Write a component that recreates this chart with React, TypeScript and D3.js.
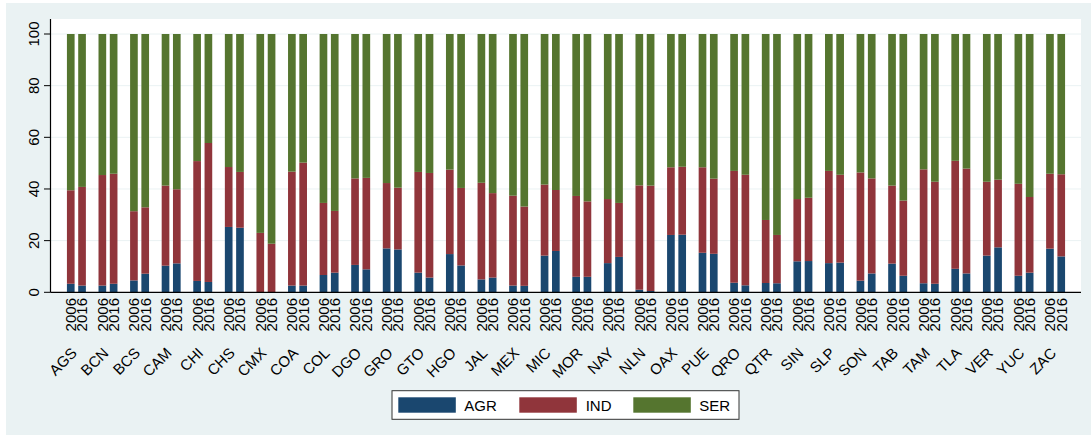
import React from "react";
import * as d3 from "d3";

const states = ["AGS","BCN","BCS","CAM","CHI","CHS","CMX","COA","COL","DGO","GRO","GTO","HGO","JAL","MEX","MIC","MOR","NAY","NLN","OAX","PUE","QRO","QTR","SIN","SLP","SON","TAB","TAM","TLA","VER","YUC","ZAC"];
const years = ["2006", "2016"];
const sectors = ["AGR", "IND", "SER"];

const agr2006 = [3.3,2.6,4.6,10.3,4.4,25.3,0.1,2.6,6.7,10.6,17.0,7.6,14.8,5.0,2.6,14.2,6.0,11.3,1.0,22.2,15.3,3.7,3.6,12.0,11.3,4.5,11.1,3.5,9.1,14.2,6.4,16.9];
const ind2006 = [36.2,42.8,26.8,31.0,46.4,23.2,22.9,44.1,27.9,33.5,25.3,39.0,32.7,37.4,34.8,27.5,31.3,24.8,40.4,26.2,33.1,43.3,24.4,24.1,35.7,41.9,30.2,44.1,41.8,28.6,35.6,29.0];
const ser2006 = [60.5,54.6,68.6,58.7,49.2,51.5,77.0,53.3,65.4,55.9,57.7,53.4,52.5,57.6,62.6,58.3,62.7,63.9,58.6,51.6,51.6,53.0,72.0,63.9,53.0,53.6,58.7,52.4,49.1,57.2,58.0,54.1];

const agr2016 = [2.6,3.3,7.2,11.2,4.0,25.0,0.1,2.6,7.6,8.9,16.6,5.7,10.4,5.7,2.5,16.0,6.0,13.7,0.5,22.3,14.9,2.7,3.5,12.1,11.5,7.3,6.4,3.3,7.3,17.4,7.6,13.9];
const ind2016 = [38.2,42.6,25.7,28.7,53.8,21.6,18.7,47.6,23.9,35.4,23.9,40.5,30.0,32.7,30.7,23.6,29.2,20.9,40.8,26.3,29.1,42.8,18.7,24.5,34.0,36.8,29.1,39.5,40.6,26.2,29.3,31.8];
const ser2016 = [59.2,54.1,67.1,60.1,42.2,53.4,81.2,49.8,68.5,55.7,59.5,53.8,59.6,61.6,66.8,60.4,64.8,65.4,58.7,51.4,56.0,54.5,77.8,63.4,54.5,55.9,64.5,57.2,52.1,56.4,63.1,54.3];

const yTicks = [0, 20, 40, 60, 80, 100];

const colors = ["#1a476f", "#90353b", "#55752f"];
const FONT = "'Liberation Sans', Arial, Helvetica, sans-serif";

type Row = { state: string; year: string; AGR: number; IND: number; SER: number };

const rows: Row[] = [];
states.forEach((s, i) => {
  rows.push({ state: s, year: "2006", AGR: agr2006[i], IND: ind2006[i], SER: ser2006[i] });
  rows.push({ state: s, year: "2016", AGR: agr2016[i], IND: ind2016[i], SER: ser2016[i] });
});

export default function App() {
  const W = 1091, H = 435;
  const plotL = 50.5, plotR = 1081, plotT = 19, plotB = 292.3;

  const y = d3.scaleLinear().domain([0, 100]).range([plotB, 34]);
  const x0 = d3.scaleBand<string>().domain(states).range([plotL, plotR + 0.5]).paddingInner(0.4).paddingOuter(0.52);
  const x1 = d3.scaleBand<string>().domain(years).range([0, x0.bandwidth()]).paddingInner(0.32);

  const stack = d3.stack<Row>().keys(sectors);
  const series = stack(rows);

  const legendItems = [
    { label: "AGR", sx: 398.3, tx: 464.3 },
    { label: "IND", sx: 519.3, tx: 585.7 },
    { label: "SER", sx: 633.3, tx: 699.3 },
  ];

  return (
    <div style={{ position: "absolute", left: 0, top: 0 }}>
      <svg width={W} height={H} style={{ display: "block" }}>
        <rect x={0} y={0} width={W} height={H} fill="#ffffff" />
        <rect x={6} y={3} width={W - 6} height={H - 3} fill="#eaf2f3" />
        <rect x={plotL} y={plotT} width={plotR - plotL} height={plotB - plotT} fill="#ffffff" />
        {yTicks.filter((t) => t > 0).map((t) => (
          <line key={"g" + t} x1={plotL} x2={plotR} y1={y(t)} y2={y(t)} stroke="#eaf2f3" strokeWidth={1} />
        ))}
        {series.map((s, si) => (
          <g key={s.key} fill={colors[si]}>
            {s.map((d, di) => {
              const r = d.data;
              const bx = (x0(r.state) as number) + (x1(r.year) as number);
              return (
                <rect key={di} x={bx} y={y(d[1])} width={x1.bandwidth()} height={Math.max(0, y(d[0]) - y(d[1]))} />
              );
            })}
          </g>
        ))}
        {/* axes */}
        <line x1={plotL} x2={plotL} y1={plotT} y2={plotB} stroke="#000" strokeWidth={1.2} />
        <line x1={plotL} x2={plotR} y1={plotB} y2={plotB} stroke="#000" strokeWidth={1.2} />
        {yTicks.map((t) => (
          <g key={"t" + t}>
            <line x1={plotL - 6.5} x2={plotL} y1={y(t)} y2={y(t)} stroke="#000" strokeWidth={1} />
            <text transform={`translate(38.5,${y(t)}) rotate(-90)`} textAnchor="middle" fontFamily={FONT} fontSize={15} fill="#000">
              {t}
            </text>
          </g>
        ))}
        {rows.map((r, i) => {
          const cx = (x0(r.state) as number) + (x1(r.year) as number) + x1.bandwidth() / 2;
          return (
            <text key={"yl" + i} transform={`translate(${cx},298) rotate(-90)`} textAnchor="end" dy="0.36em" fontFamily={FONT} fontSize={15} fill="#000">
              {r.year}
            </text>
          );
        })}
        {states.map((s) => {
          const cx = (x0(s) as number) + x0.bandwidth() / 2;
          return (
            <text key={"s" + s} transform={`translate(${cx + 1.5},354) rotate(-45)`} textAnchor="end" fontFamily={FONT} fontSize={15} fill="#000">
              {s}
            </text>
          );
        })}
        {/* legend */}
        <rect x={392} y={390.7} width={347} height={28.6} fill="#ffffff" stroke="#333" strokeWidth={1} />
        {legendItems.map((it, i) => (
          <g key={it.label}>
            <rect x={it.sx} y={397.3} width={57.5} height={15.4} fill={colors[i]} />
            <text x={it.tx} y={410.5} fontFamily={FONT} fontSize={15} fill="#000">
              {it.label}
            </text>
          </g>
        ))}
      </svg>
    </div>
  );
}
